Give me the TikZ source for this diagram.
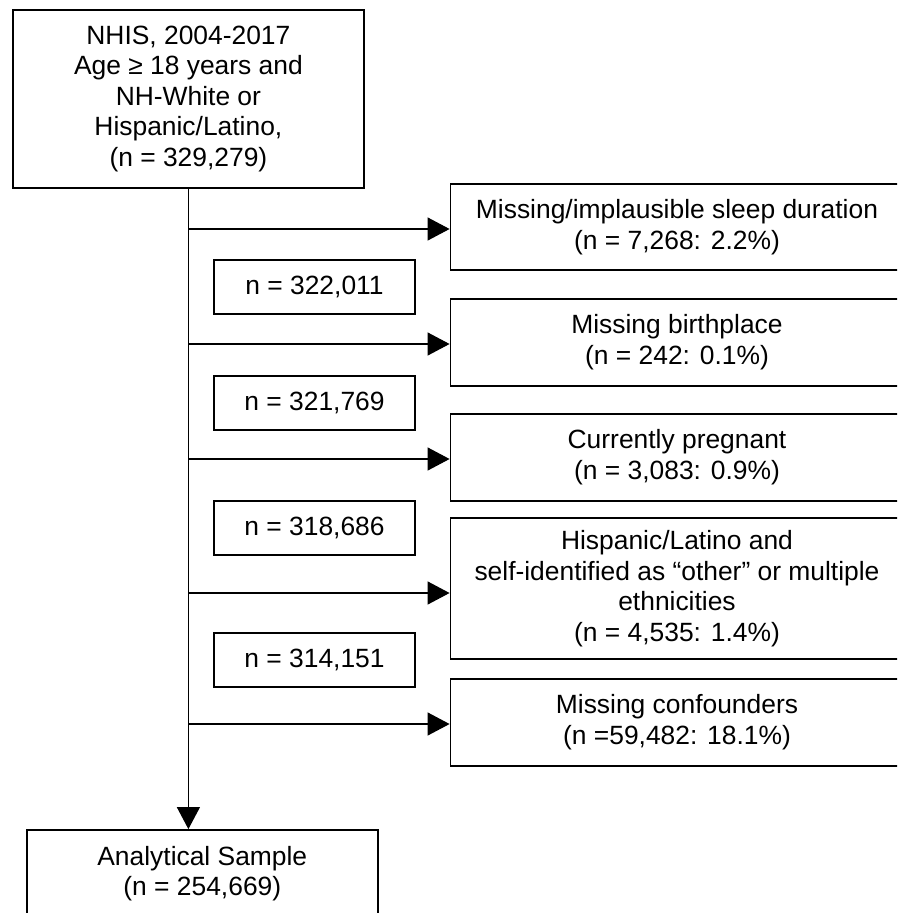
\documentclass[tikz,border=0pt]{standalone}
\usepackage{fontspec}
\setmainfont{Liberation Sans}
\usetikzlibrary{arrows.meta}

\begin{document}
\begin{tikzpicture}[x=1pt, y=-1pt,
  box/.style={draw, line width=1.8pt, align=center, inner sep=0pt,
    font=\fontsize{26.4}{30.5}\selectfont},
  drop/.style={box, minimum width=453pt, minimum height=86.7pt},
  count/.style={box, minimum width=201pt, minimum height=54pt},
  arr/.style={-{Triangle[length=22pt, width=23pt]}, line width=1.2pt}]

\useasboundingbox (0,0) rectangle (897,913);
\clip (0,0) rectangle (897,913);

\node[box, minimum width=351pt, minimum height=178pt] (0) at (188.4, 99) {NHIS, 2004-2017\\Age ≥ 18 years and\\NH-White or\\Hispanic/Latino,\\(n = 329,279)};

\node[drop] (1) at (677, 227) {Missing/implausible sleep duration\\(n = 7,268: 2.2\%)};
\node[drop] (2) at (677, 342.3) {Missing birthplace\\(n = 242: 0.1\%)};
\node[drop] (3) at (677, 457.3) {Currently pregnant\\(n = 3,083: 0.9\%)};
\node[drop, minimum height=140.7pt] (4) at (677, 588.7) {Hispanic/Latino and\\self-identified as “other” or multiple\\ethnicities\\(n = 4,535: 1.4\%)};
\node[drop] (5) at (677, 722.3) {Missing confounders\\(n =59,482: 18.1\%)};

\node[count] (6) at (314.5, 287) {n = 322,011};
\node[count] (7) at (314.5, 402.8) {n = 321,769};
\node[count] (8) at (314.5, 527.8) {n = 318,686};
\node[count] (9) at (314.5, 660.3) {n = 314,151};

\node[box, minimum width=351pt, minimum height=87pt] (10) at (202.3, 873.5) {Analytical Sample\\(n = 254,669)};

\coordinate (a1) at (189, 229);
\coordinate (a2) at (189, 344);
\coordinate (a3) at (189, 459);
\coordinate (a4) at (189, 593);
\coordinate (a5) at (189, 724);

\draw[arr] (0.south) -- (0.south |- 10.north);

\draw (a1) edge[arr] (a1 -| 1.west);
\draw (a2) edge[arr] (a2 -| 2.west);
\draw (a3) edge[arr] (a3 -| 3.west);
\draw (a4) edge[arr] (a4 -| 4.west);
\draw (a5) edge[arr] (a5 -| 5.west);
\end{tikzpicture}
\end{document}
